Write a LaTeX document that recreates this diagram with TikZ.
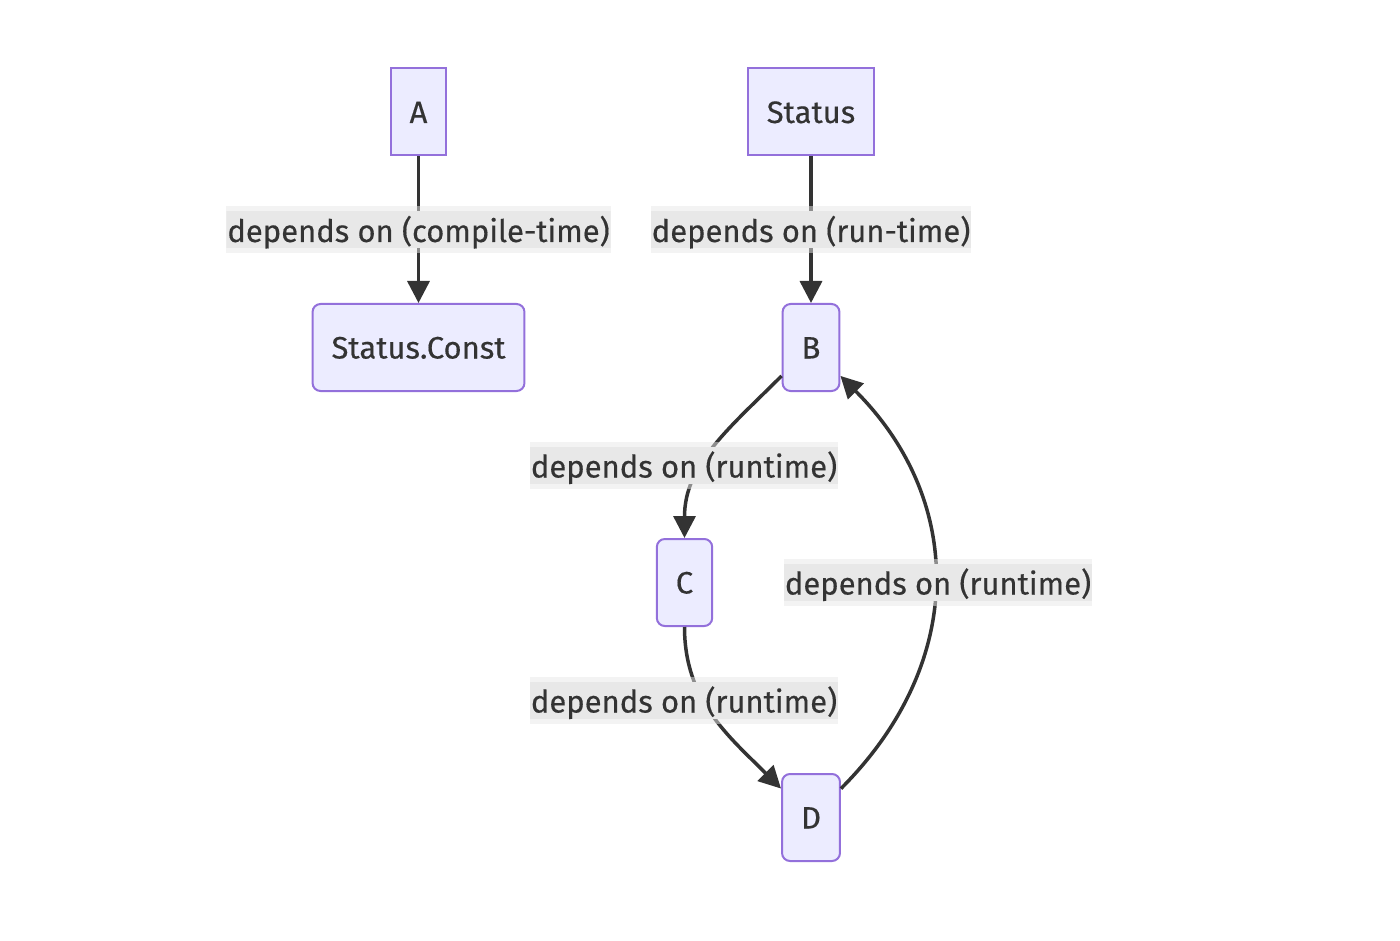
\documentclass[tikz,border=0pt]{standalone}
\usepackage{fontspec}
\setmainfont{Fira Sans}[FakeBold=0.4,AutoFakeBold=0.4]
\usetikzlibrary{arrows.meta,positioning}

\definecolor{boxfill}{HTML}{ECECFF}
\definecolor{boxline}{HTML}{9370DB}
\definecolor{edgeline}{HTML}{333333}
\definecolor{lblfill}{HTML}{E8E8E8}
\definecolor{txt}{HTML}{333333}

\tikzset{
  box/.style={draw=boxline, fill=boxfill, line width=2pt, text=txt,
    inner xsep=19pt, inner ysep=0pt, minimum height=87pt,
    text height=22pt, text depth=0pt, font=\fontsize{31}{36}\selectfont\bfseries},
  roundbox/.style={box, rounded corners=8pt},
  dep/.style={draw=edgeline, line width=3.5pt, -{Triangle[length=22pt,width=22pt]}},
  deplabel/.style={fill=lblfill, fill opacity=0.5, text opacity=1, text=txt,
    inner xsep=1pt, inner ysep=0pt, minimum height=47pt,
    text height=27pt, text depth=3pt, font=\fontsize{31}{36}\selectfont\bfseries,
    path picture={\fill[lblfill, fill opacity=1]
      ([yshift=-5pt]path picture bounding box.north west) rectangle
      ([yshift=5pt]path picture bounding box.south east);}},
}

\begin{document}
\begin{tikzpicture}[x=1pt, y=1pt]
  \useasboundingbox (0,0) rectangle (1400,-941);
  % nodes
  \node[box] (A) at (418.5,-112) {A};
  \node[box] (Status) at (811,-112) {Status};
  \node[roundbox] (SC) at (418.5,-347.5) {Status.Const};
  \node[roundbox] (B) at (811,-347.5) {B};
  \node[roundbox] (C) at (684.5,-582.5) {C};
  \node[roundbox] (D) at (811,-817.5) {D};
  % edges
  \draw[dep] (A) -- (SC);
  \draw[dep] (Status) -- (B);
  \draw[dep] (B.-136) to[out=-135, in=90] (C.north);
  \draw[dep] (C.south) to[out=-90, in=135] (D.136);
  \draw[dep] (D.44) to[out=45, in=-45, looseness=1.1] (B.-44);
  % edge labels
  \node[deplabel] (l1) at (418.5,-230) {depends on (compile-time)};
  \node[deplabel] (l2) at (811,-230) {depends on (run-time)};
  \node[deplabel] (l3) at (684,-465.5) {depends on (runtime)};
  \node[deplabel] (l4) at (684,-700.5) {depends on (runtime)};
  \node[deplabel] (l5) at (938,-582.5) {depends on (runtime)};
\end{tikzpicture}
\end{document}
